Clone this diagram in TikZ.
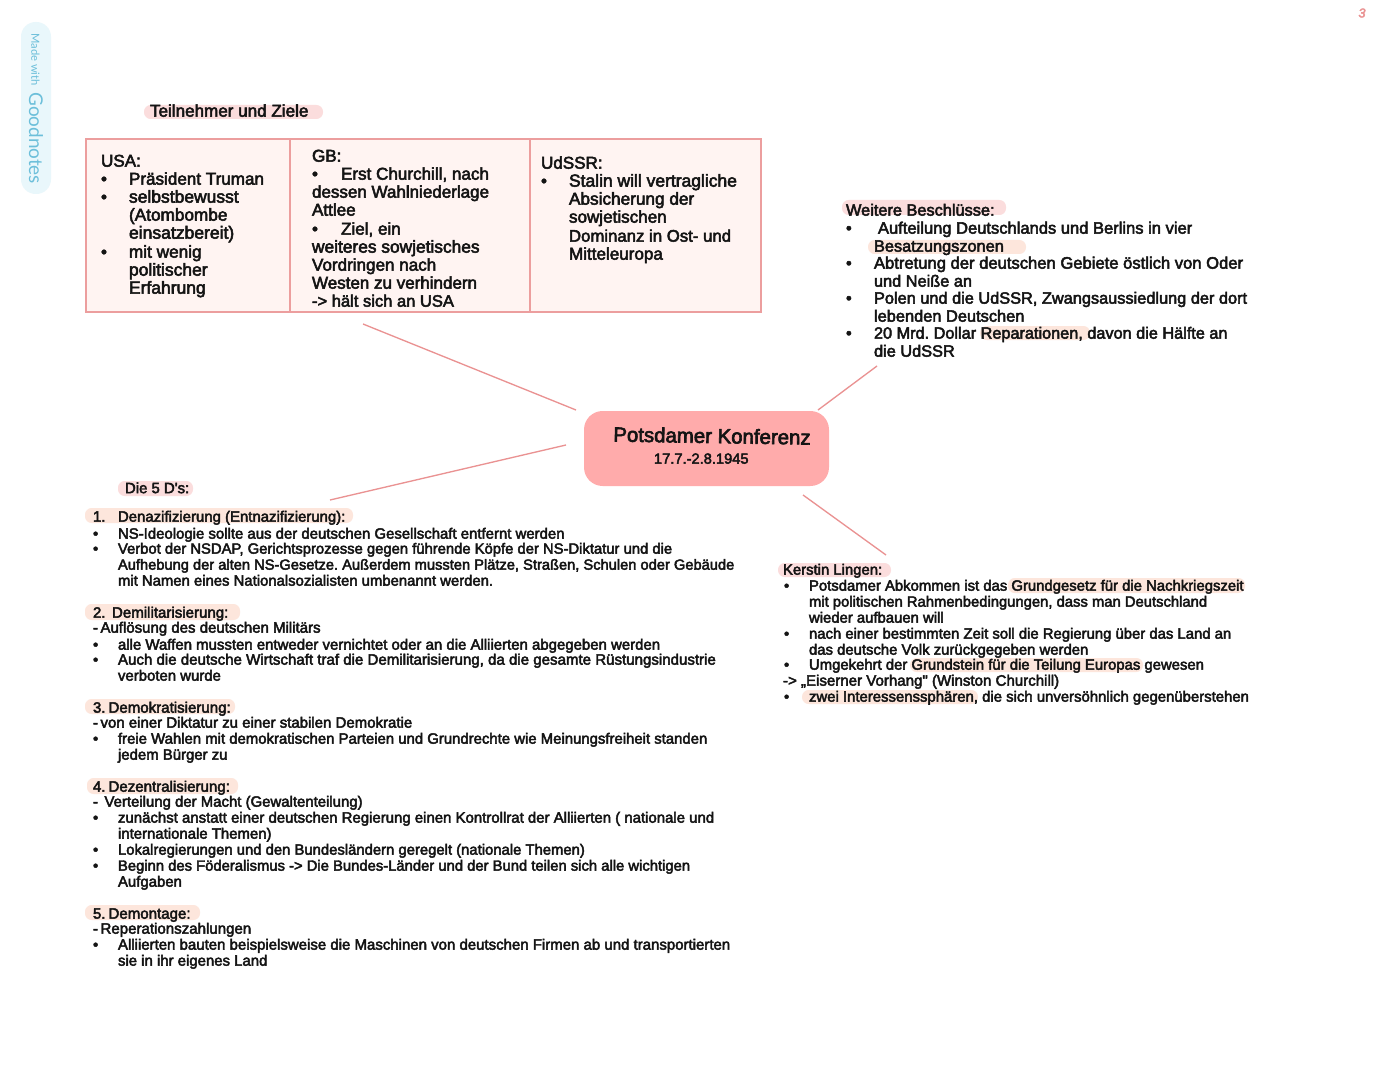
\documentclass[tikz,border=0pt]{standalone}
\usepackage{fontspec}
\setmainfont{Liberation Sans}
\newfontfamily\fb[FakeBold=3]{Liberation Sans}
\newfontfamily\lt{Lato}
\frenchspacing
\definecolor{ink}{HTML}{141414}
\definecolor{hlpink}{HTML}{FBDDDD}
\definecolor{hlpeach}{HTML}{FDE6DC}
\definecolor{rule}{HTML}{EC9E9E}
\definecolor{cellbg}{HTML}{FFF4F2}
\definecolor{hub}{HTML}{FFABAB}
\definecolor{link}{HTML}{EA9292}
\definecolor{badge}{HTML}{E9F7FB}
\definecolor{badgetx}{HTML}{6CBFDA}
\newcounter{lc}
\tikzset{
  line/.style={anchor=base west,inner sep=0pt,outer sep=0pt,text=ink,yshift=-0.5pt},
  sz/.style={font=\fontsize{#1}{14}\selectfont\fb},
  sA/.style={line,sz=12.8},
  sB/.style={line,sz=12.25},
  sC/.style={line,sz=11.2},
  sD/.style={line,sz=11.15},
  cell/.style={draw=rule,line width=1.4pt,fill=cellbg,anchor=north west,minimum height=129.5pt,inner sep=0pt,outer sep=0pt},
  conn/.style={draw=link,line width=1pt},
}
\newcommand\Ln[4]{\stepcounter{lc}\node[#1,name=l\arabic{lc}] at (#2,#3) {#4};}
\newcommand\Hl[5]{\fill[#1,rounded corners=5pt] (#2,#3) rectangle (#4,#5);}
\begin{document}
\begin{tikzpicture}[x=0.75pt,y=-0.75pt]
\useasboundingbox (0,0) rectangle (1394,1080);
\fill[white] (0,0) rectangle (1394,1080);
% badge
\fill[badge,rounded corners=11pt] (21,22) rectangle (51,194);
\node[name=made,rotate=-90,anchor=west,inner sep=0pt,text=badgetx,font=\fontsize{8.4}{9}\selectfont\lt] at (35.5,33) {Made with};
\node[name=good,rotate=-90,anchor=west,inner sep=0pt,text=badgetx,font=\fontsize{14.2}{18}\selectfont\lt] at (36,92) {Goodnotes};
\node[name=page,inner sep=0pt,text=link,font=\fontsize{9.5}{10}\selectfont\fb\itshape] at (1362,13) {3};
% highlights
\Hl{hlpink}{144}{105}{323}{119}
\Hl{hlpink}{842}{200}{1006}{215}
\Hl{hlpeach}{868}{240}{1026}{254}
\Hl{hlpeach}{980}{326}{1090}{340}
\Hl{hlpink}{778}{563}{891}{577}
\Hl{hlpeach}{1008}{578}{1245}{593}
\Hl{hlpeach}{910}{658}{1143}{672}
\Hl{hlpeach}{802}{690}{978}{704}
\Hl{hlpink}{118}{481}{193}{496}
\Hl{hlpeach}{85}{508}{353}{523}
\Hl{hlpeach}{85}{604}{240}{620}
\Hl{hlpeach}{85}{699}{235}{714}
\Hl{hlpeach}{87}{778}{238}{794}
\Hl{hlpeach}{85}{905}{200}{920}
% table
\node[cell,minimum width=153pt] (usa) at (86,139) {};
\node[cell,minimum width=179.8pt] (gb) at (290,139) {};
\node[cell,minimum width=173.6pt] (ud) at (529.7,139) {};
% hub
\node[fill=hub,rounded corners=14pt,minimum width=183.75pt,minimum height=56.25pt,inner sep=0pt,outer sep=0pt,anchor=north west] (hub) at (584,411) {};
\node[name=title,rotate=-0.9,inner sep=0pt,anchor=base west,text=ink,font=\fontsize{15.3}{18}\selectfont\fb] at (613,441.5) {Potsdamer Konferenz};
\node[name=date,line,font=\fontsize{11}{13}\selectfont\fb] at (654,463) {17.7.-2.8.1945};
% connectors
\coordinate (c1a) at (363,324); \coordinate (c1b) at (576,410);
\coordinate (c2a) at (566,445); \coordinate (c2b) at (330,500);
\coordinate (c3a) at (818,410); \coordinate (c3b) at (877,366);
\coordinate (c4a) at (803,495); \coordinate (c4b) at (886,555);
\draw[conn] (c1a) -- (c1b);
\draw[conn] (c2a) -- (c2b);
\draw[conn] (c3a) -- (c3b);
\draw[conn] (c4a) -- (c4b);
% headings and table text
\Ln{sA}{150}{116}{Teilnehmer und Ziele}
\Ln{sA}{101}{166}{USA:}
\Ln{sA}{101}{184}{•}\Ln{sA}{129}{184}{Präsident Truman}
\Ln{sA}{101}{202}{•}\Ln{sA,sz=13.1}{129}{202}{selbstbewusst}
\Ln{sA,sz=12.9}{129}{220}{(Atombombe}
\Ln{sA,sz=13.15}{129}{238}{einsatzbereit)}
\Ln{sA}{101}{257}{•}\Ln{sA,sz=12.9}{129}{257}{mit wenig}
\Ln{sA,sz=13.1}{129}{275}{politischer}
\Ln{sA,sz=13.1}{129}{293}{Erfahrung}
\Ln{sA}{312}{161}{GB:}
\Ln{sA}{312}{179}{•}\Ln{sA}{341}{179}{Erst Churchill, nach}
\Ln{sA,sz=12.75}{312}{197}{dessen Wahlniederlage}
\Ln{sA}{312}{215}{Attlee}
\Ln{sA}{312}{234}{•}\Ln{sA}{341}{234}{Ziel, ein}
\Ln{sA,sz=13}{312}{252}{weiteres sowjetisches}
\Ln{sA}{312}{270}{Vordringen nach}
\Ln{sA,sz=12.75}{312}{288}{Westen zu verhindern}
\Ln{sA,sz=12.4}{312}{306}{-> hält sich an USA}
\Ln{sA}{541}{168}{UdSSR:}
\Ln{sA}{541}{186}{•}\Ln{sA,sz=13.1}{569}{186}{Stalin will vertragliche}
\Ln{sA,sz=12.9}{569}{204}{Absicherung der}
\Ln{sA}{569}{222}{sowjetischen}
\Ln{sA,sz=12.57}{569}{241}{Dominanz in Ost- und}
\Ln{sA}{569}{259}{Mitteleuropa}
% top right
\Ln{sB}{846}{215}{Weitere Beschlüsse:}
\Ln{sB}{846}{233}{•}\Ln{sB,sz=12.4}{878}{233}{Aufteilung Deutschlands und Berlins in vier}
\Ln{sB}{874}{251}{Besatzungszonen}
\Ln{sB}{846}{268}{•}\Ln{sB,sz=12.45}{874}{268}{Abtretung der deutschen Gebiete östlich von Oder}
\Ln{sB}{874}{286}{und Neiße an}
\Ln{sB}{846}{303}{•}\Ln{sB}{874}{303}{Polen und die UdSSR, Zwangsaussiedlung der dort}
\Ln{sB,sz=12.3}{874}{321}{lebenden Deutschen}
\Ln{sB}{846}{338}{•}\Ln{sB,sz=12.2}{874}{338}{20 Mrd. Dollar Reparationen, davon die Hälfte an}
\Ln{sB}{874}{356}{die UdSSR}
% lower right
\Ln{sD}{783}{574}{Kerstin Lingen:}
\Ln{sD}{784}{590}{•}\Ln{sD}{809}{590}{Potsdamer Abkommen ist das Grundgesetz für die Nachkriegszeit}
\Ln{sD,sz=11.1}{809}{606}{mit politischen Rahmenbedingungen, dass man Deutschland}
\Ln{sD}{809}{622}{wieder aufbauen will}
\Ln{sD}{784}{638}{•}\Ln{sD}{809}{638}{nach einer bestimmten Zeit soll die Regierung über das Land an}
\Ln{sD}{809}{654}{das deutsche Volk zurückgegeben werden}
\Ln{sD}{784}{669}{•}\Ln{sD}{809}{669}{Umgekehrt der Grundstein für die Teilung Europas gewesen}
\Ln{sD,sz=11.3}{783}{685}{-> „Eiserner Vorhang" (Winston Churchill)}
\Ln{sD}{784}{701}{•}\Ln{sD,sz=11.18}{809}{701}{zwei Interessenssphären, die sich unversöhnlich gegenüberstehen}
% left
\Ln{sC}{125}{492.5}{Die 5 D's:}
\Ln{sC}{93}{521}{1.}\Ln{sC}{118}{521}{Denazifizierung (Entnazifizierung):}
\Ln{sC}{93}{538}{•}\Ln{sC}{118}{538}{NS-Ideologie sollte aus der deutschen Gesellschaft entfernt werden}
\Ln{sC}{93}{553}{•}\Ln{sC,sz=11.1}{118}{553}{Verbot der NSDAP, Gerichtsprozesse gegen führende Köpfe der NS-Diktatur und die}
\Ln{sC,sz=11}{118}{569}{Aufhebung der alten NS-Gesetze. Außerdem mussten Plätze, Straßen, Schulen oder Gebäude}
\Ln{sC,sz=11.15}{118}{585}{mit Namen eines Nationalsozialisten umbenannt werden.}
\Ln{sC}{93}{617}{2.}\Ln{sC,sz=11.3}{112}{617}{Demilitarisierung:}
\Ln{sC}{93}{632}{-}\Ln{sC,sz=11.25}{100.5}{632}{Auflösung des deutschen Militärs}
\Ln{sC}{93}{649}{•}\Ln{sC,sz=11.22}{118}{649}{alle Waffen mussten entweder vernichtet oder an die Alliierten abgegeben werden}
\Ln{sC}{93}{664}{•}\Ln{sC,sz=11.3}{118}{664}{Auch die deutsche Wirtschaft traf die Demilitarisierung, da die gesamte Rüstungsindustrie}
\Ln{sC}{118}{680}{verboten wurde}
\Ln{sC}{93}{712}{3.}\Ln{sC,sz=11.3}{108.5}{712}{Demokratisierung:}
\Ln{sC}{93}{727}{-}\Ln{sC,sz=11.25}{100.5}{727}{von einer Diktatur zu einer stabilen Demokratie}
\Ln{sC}{93}{743}{•}\Ln{sC,sz=11.18}{118}{743}{freie Wahlen mit demokratischen Parteien und Grundrechte wie Meinungsfreiheit standen}
\Ln{sC}{118}{759}{jedem Bürger zu}
\Ln{sC}{93}{791}{4.}\Ln{sC,sz=11.3}{108.5}{791}{Dezentralisierung:}
\Ln{sC}{93}{806}{-}\Ln{sC}{104.5}{806}{Verteilung der Macht (Gewaltenteilung)}
\Ln{sC}{93}{822}{•}\Ln{sC,sz=11.22}{118}{822}{zunächst anstatt einer deutschen Regierung einen Kontrollrat der Alliierten ( nationale und}
\Ln{sC}{118}{838}{internationale Themen)}
\Ln{sC}{93}{854}{•}\Ln{sC,sz=11.13}{118}{854}{Lokalregierungen und den Bundesländern geregelt (nationale Themen)}
\Ln{sC}{93}{870}{•}\Ln{sC,sz=11.1}{118}{870}{Beginn des Föderalismus -> Die Bundes-Länder und der Bund teilen sich alle wichtigen}
\Ln{sC}{118}{886}{Aufgaben}
\Ln{sC}{93}{918}{5.}\Ln{sC,sz=11.3}{108.5}{918}{Demontage:}
\Ln{sC}{93}{933}{-}\Ln{sC,sz=11.3}{100.5}{933}{Reperationszahlungen}
\Ln{sC}{93}{949}{•}\Ln{sC,sz=11.24}{118}{949}{Alliierten bauten beispielsweise die Maschinen von deutschen Firmen ab und transportierten}
\Ln{sC}{118}{965}{sie in ihr eigenes Land}
\end{tikzpicture}
\end{document}
